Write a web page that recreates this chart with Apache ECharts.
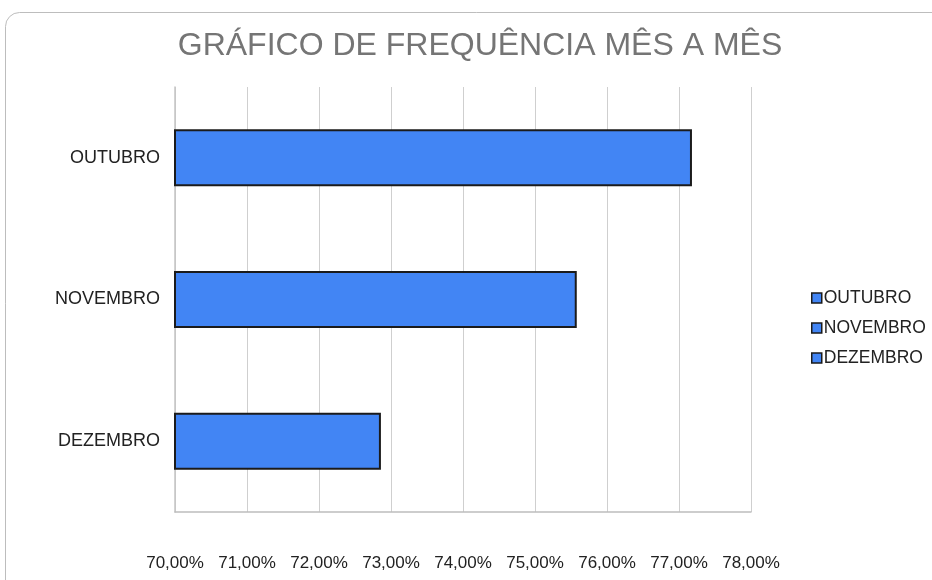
<!DOCTYPE html>
<html>
<head>
<meta charset="utf-8">
<script src="https://cdn.jsdelivr.net/npm/echarts@6/dist/echarts.min.js"></script>
<style>
  html, body { margin: 0; padding: 0; background: #fff; }
  #chart { width: 932px; height: 580px; }
</style>
</head>
<body>
<div id="chart"></div>
<script>
var meses = ['OUTUBRO', 'NOVEMBRO', 'DEZEMBRO'];
var frequencia = [77.18, 75.58, 72.86];
var eixoMin = 70, eixoMax = 78, eixoPasso = 1;

// uma série por mês para a legenda mostrar os três itens
var series = meses.map(function (nome, i) {
	var dados = meses.map(function (m, j) { return j === i ? frequencia[i] : '-'; });
	return {
		name: nome,
		type: 'bar',
		barWidth: 57,
		barGap: '-100%',
		data: dados,
		itemStyle: { color: '#4285F4', borderColor: '#1b1b1b', borderWidth: 2 }
	};
});

var option = {
	backgroundColor: '#FFF',
	animation: false,
	textStyle: { fontFamily: 'Liberation Sans, Arial, sans-serif' },
	graphic: [{
		type: 'rect',
		shape: { x: 5.5, y: 12.5, width: 945, height: 620, r: 14 },
		style: { fill: 'none', stroke: '#bdbdbd', lineWidth: 1 },
		silent: true
	}],
	title: {
		text: 'GRÁFICO DE FREQUÊNCIA MÊS A MÊS',
		left: 475,
		textAlign: 'center',
		top: 25,
		textStyle: { color: '#757575', fontSize: 32, fontWeight: 'normal', fontFamily: 'Liberation Sans, Arial, sans-serif' }
	},
	legend: {
		orient: 'vertical',
		left: 806,
		top: 284,
		itemWidth: 10,
		itemHeight: 10,
		itemGap: 12,
		icon: 'rect',
		itemStyle: { borderWidth: 1.5, borderColor: '#1b1b1b' },
		textStyle: { color: '#222', fontSize: 17.5, padding: [0, 0, 0, -3] },
		data: meses
	},
	grid: { left: 175, right: 181, top: 87, bottom: 68, containLabel: false },
	xAxis: {
		type: 'value',
		min: eixoMin,
		max: eixoMax,
		interval: eixoPasso,
		axisLine: { show: true, lineStyle: { color: '#bdbdbd', width: 1.5 } },
		axisTick: { show: false },
		splitLine: { lineStyle: { color: '#cfcfcf', width: 1 } },
		axisLabel: {
			color: '#222',
			fontSize: 17,
			margin: 43,
			formatter: function (v) { return v.toFixed(2).replace('.', ',') + '%'; }
		}
	},
	yAxis: {
		type: 'category',
		inverse: true,
		data: meses,
		axisLine: { show: true, lineStyle: { color: '#c4c4c4', width: 1.5 } },
		axisTick: { show: false },
		axisLabel: { color: '#222', fontSize: 18, margin: 15 }
	},
	series: series
};

var myChart = echarts.init(document.getElementById('chart'));
myChart.setOption(option);
</script>
</body>
</html>
